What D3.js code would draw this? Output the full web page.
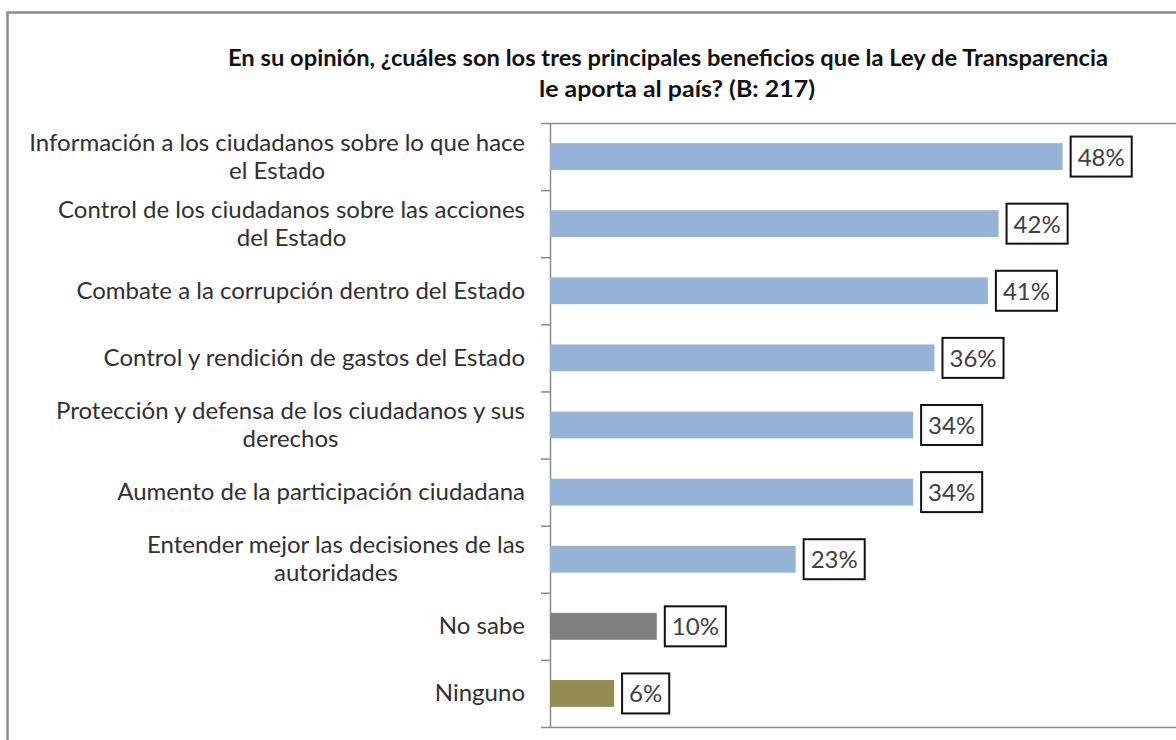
<!DOCTYPE html>
<html>
<head>
<meta charset="utf-8">
<script src="https://cdn.jsdelivr.net/npm/d3@7"></script>
<style>
  body { margin: 0; background: #fff; }
  svg { display: block; }
</style>
</head>
<body>
<div id="chart"></div>
<script>
// data
const titleLines = [
  "En su opinión, ¿cuáles son los tres principales beneficios que la Ley de Transparencia",
  "le aporta al país? (B: 217)"
];
const categories = [
  ["Información a los ciudadanos sobre lo que hace", "el Estado"],
  ["Control de los ciudadanos sobre las acciones", "del Estado"],
  ["Combate a la corrupción dentro del Estado"],
  ["Control y rendición de gastos del Estado"],
  ["Protección y defensa de los ciudadanos y sus", "derechos"],
  ["Aumento de la participación ciudadana"],
  ["Entender mejor las decisiones de las", "autoridades"],
  ["No sabe"],
  ["Ninguno"]
];
const values = [0.48, 0.42, 0.41, 0.36, 0.34, 0.34, 0.23, 0.10, 0.06];
const barColors = ["#95b3d7", "#95b3d7", "#95b3d7", "#95b3d7", "#95b3d7", "#95b3d7", "#95b3d7", "#808080", "#948a54"];

const width = 1176, height = 740;
const font = "Lato, 'Open Sans', sans-serif";
const plot = { left: 550, top: 123, bottom: 727 };

const svg = d3.select("#chart").append("svg")
    .attr("width", width)
    .attr("height", height);

svg.append("rect").attr("width", width).attr("height", height).attr("fill", "#fff");

// outer frame (runs off the right and bottom edges)
svg.append("rect")
    .attr("x", 7.5).attr("y", 12.5)
    .attr("width", width + 20).attr("height", height + 20)
    .attr("fill", "none")
    .attr("stroke", "#8a8a8a")
    .attr("stroke-width", 2.5);

// title
const title = svg.append("g")
    .style("font-family", font)
    .style("font-weight", "700")
    .style("font-size", "22px")
    .attr("fill", "#111");
title.append("text")
    .attr("x", 668).attr("y", 66)
    .attr("text-anchor", "middle")
    .attr("textLength", 880)
    .attr("lengthAdjust", "spacingAndGlyphs")
    .text(titleLines[0]);
title.append("text")
    .attr("x", 677).attr("y", 97)
    .attr("text-anchor", "middle")
    .attr("textLength", 276)
    .attr("lengthAdjust", "spacingAndGlyphs")
    .text(titleLines[1]);

var y = d3.scaleBand()
    .domain(d3.range(categories.length))
    .range([plot.top, plot.bottom])
    .paddingInner(0.6)
    .paddingOuter(0.3);

var x = d3.scaleLinear()
    .domain([0, 0.5])
    .range([plot.left, plot.left + 534]);

// plot area top / bottom border
svg.append("g")
    .selectAll("line")
    .data([plot.top, plot.bottom])
    .join("line")
    .attr("x1", plot.left).attr("x2", width)
    .attr("y1", d => d + 0.5).attr("y2", d => d + 0.5)
    .attr("stroke", "#8a8a8a")
    .attr("stroke-width", 1.5);

// category axis with ticks between bands
var yEdges = d3.scaleLinear()
    .domain([0, categories.length])
    .range([plot.top, plot.bottom]);

svg.append("g")
    .attr("transform", `translate(${plot.left},0)`)
    .call(d3.axisLeft(yEdges).tickValues(d3.range(categories.length + 1)).tickFormat("").tickSize(9).tickSizeOuter(0))
    .call(g => g.selectAll("line,path").attr("stroke", "#8a8a8a").attr("stroke-width", 1.5));

// bars
svg.append("g")
    .selectAll("rect")
    .data(values)
    .join("rect")
    .attr("x", x(0))
    .attr("y", (d, i) => y(i))
    .attr("width", d => x(d) - x(0))
    .attr("height", y.bandwidth())
    .attr("fill", (d, i) => barColors[i]);

// category labels
const labelG = svg.append("g")
    .style("font-family", font)
    .style("font-size", "24px")
    .attr("fill", "#303030");

categories.forEach((lines, i) => {
    const cy = y(i) + y.bandwidth() / 2;
    const t = labelG.append("text").attr("text-anchor", "middle");
    lines.forEach((ln, j) => {
        t.append("tspan")
            .attr("y", cy + 8 + (j - (lines.length - 1) / 2) * 28)
            .text(ln);
    });
    const maxW = d3.max(t.selectAll("tspan").nodes(), n => n.getComputedTextLength());
    t.selectAll("tspan").attr("x", 525 - maxW / 2);
});

// value labels in boxes
const valG = svg.append("g")
    .style("font-family", font)
    .style("font-size", "24px");

values.forEach((v, i) => {
    const cy = y(i) + y.bandwidth() / 2;
    const g = valG.append("g");
    const box = g.append("rect");
    const t = g.append("text")
        .attr("fill", "#404040")
        .attr("y", cy + 9)
        .text(d3.format(".0%")(v));
    const w = t.node().getComputedTextLength() + 14;
    const bx = x(v) + 8;
    t.attr("x", bx + 7);
    box.attr("x", bx).attr("y", cy - 20)
        .attr("width", w).attr("height", 40)
        .attr("fill", "#fff")
        .attr("stroke", "#111")
        .attr("stroke-width", 2);
});
</script>
</body>
</html>
